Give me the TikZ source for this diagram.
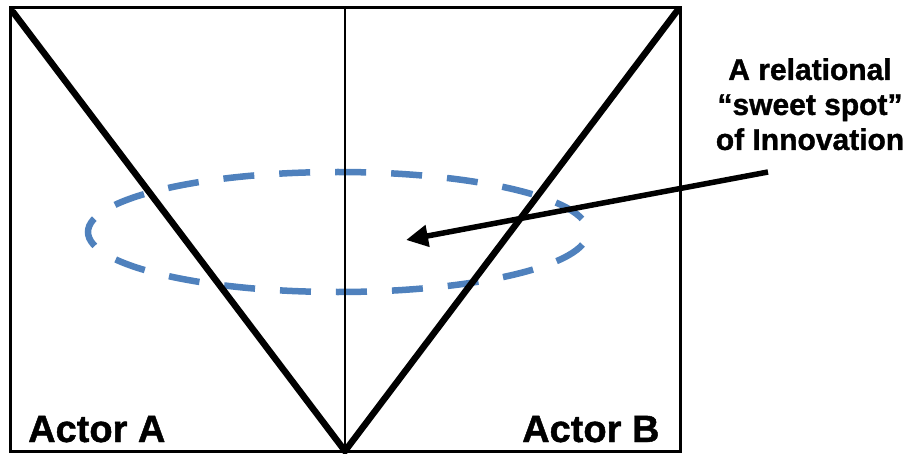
\documentclass[tikz,border=0pt]{standalone}
\usepackage{fontspec}
\setmainfont{Liberation Sans}[BoldFeatures={FakeBold=1.2}]
\usetikzlibrary{arrows.meta}
\definecolor{mBlue}{HTML}{4F81BD}

\begin{document}
\begin{tikzpicture}[x=1pt, y=-1pt,
  actor/.style={font=\fontsize{38}{40}\selectfont\bfseries, anchor=base west, inner sep=0pt},
  note/.style={font=\fontsize{30}{35}\selectfont\bfseries, align=center, anchor=north, inner sep=0pt},
  thick line/.style={line width=6.5pt, line cap=round},
]
  \useasboundingbox (0,0) rectangle (909,454);
  \coordinate (tl) at (10,8);
  \coordinate (br) at (680,451);
  \coordinate (tm) at (345,8);
  \coordinate (apex) at (345,451);
  \coordinate (left) at (13,12);
  \coordinate (right) at (677,11);
  \coordinate (tail) at (768,172);
  \coordinate (spot) at (406,240);

  % sweet spot
  \draw[mBlue, line width=6.5pt, dash pattern=on 31pt off 25pt, dash phase=42pt]
    (338,232) ellipse [x radius=250, y radius=60];

  \draw[line width=3pt] (tl) rectangle (br);
  \draw[line width=2.2pt] (tm) -- (apex);
  \draw[thick line] (left) -- (apex) -- (right);

  \node[actor] (actA) at (28,442) {Actor A};
  \node[actor] (actB) at (522,442) {Actor B};
  \node[note] (sweet) at (810,58) {A relational\\``sweet spot''\\of Innovation};

  \draw[line width=5.5pt, -{Triangle[length=22pt, width=21pt]}] (tail) -- (spot);
\end{tikzpicture}
\end{document}
